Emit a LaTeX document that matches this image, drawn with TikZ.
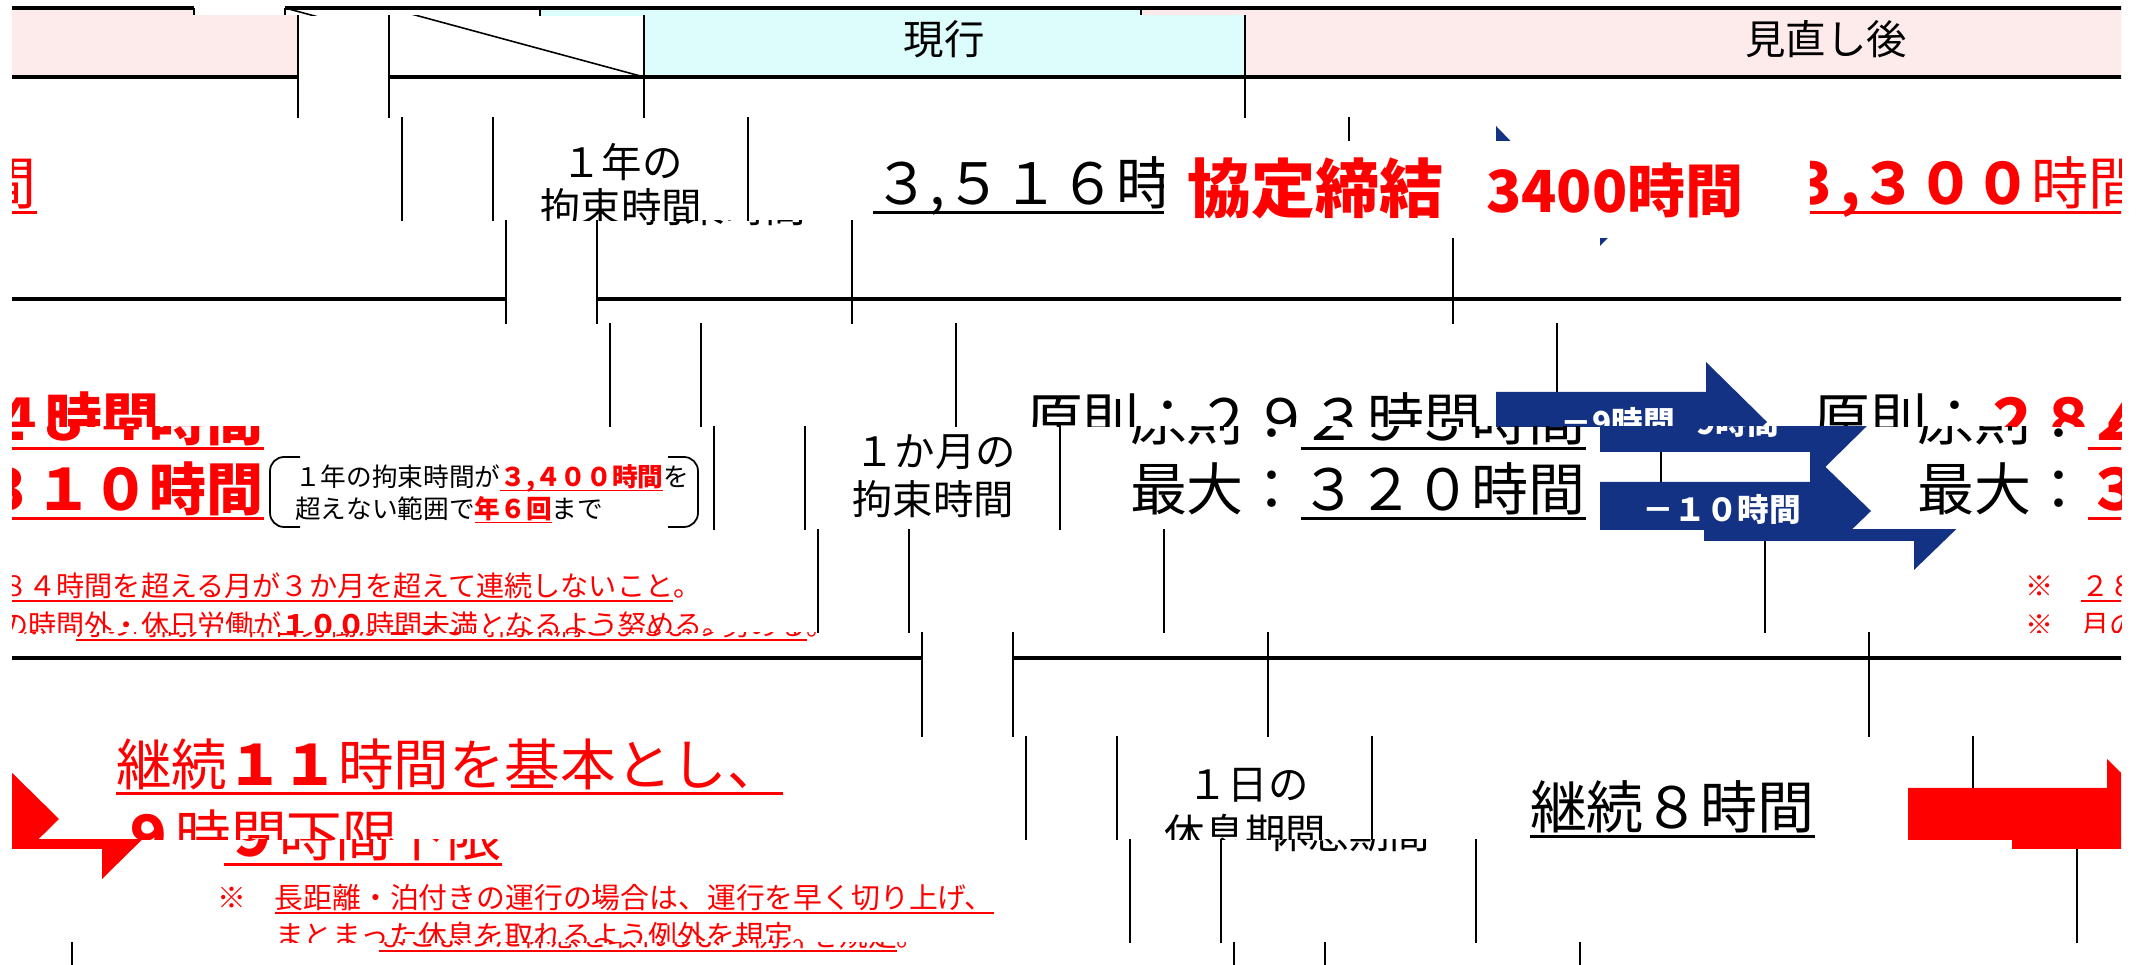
\documentclass[tikz,border=0pt]{standalone}
\usepackage{fontspec}
\newfontfamily\jp{Noto Sans CJK JP}
\definecolor{hdrcyan}{RGB}{221,253,253}
\definecolor{hdrpink}{RGB}{253,235,235}
\definecolor{navy}{RGB}{19,50,132}
\definecolor{pured}{RGB}{255,0,0}
\newsavebox\ulbox
\newcommand\myul[1]{\sbox\ulbox{#1}\rlap{\vrule height -0.11em depth 0.165em width \wd\ulbox}\usebox\ulbox}
\tikzset{
  txt/.style={inner sep=0pt, outer sep=0pt},
  hdrtext/.style={txt, font=\jp\fontsize{11.5pt}{14pt}\selectfont},
  bigtext/.style={txt, anchor=base west, font=\jp\fontsize{16.2pt}{19pt}\selectfont},
  kyotext/.style={txt, anchor=base west, text=pured, font=\jp\bfseries\fontsize{18.2pt}{21pt}\selectfont},
  kyotextb/.style={txt, anchor=base west, text=pured, font=\jp\bfseries\fontsize{16.5pt}{20pt}\selectfont},
  notetext/.style={txt, anchor=base west, font=\jp\fontsize{7.3pt}{9pt}\selectfont},
  smalltext/.style={txt, anchor=base west, text=pured, font=\jp\fontsize{8pt}{10pt}\selectfont},
  smalltextb/.style={txt, anchor=base west, text=pured, font=\jp\fontsize{8.2pt}{10pt}\selectfont},
  daytext/.style={txt, anchor=base west, text=pured, font=\jp\fontsize{15.8pt}{19pt}\selectfont},
  arrowtext/.style={txt, text=white, font=\jp\bfseries\fontsize{9pt}{11pt}\selectfont},
  vline/.style={line width=0.55pt, black},
  hline/.style={line width=0.9pt, black},
  bracketline/.style={line width=0.5pt, black, rounded corners=4},
}
\newcommand\tablebody[1]{%
  % header fills
  \fill[hdrcyan] (644,8) rectangle (1245,77);
  \fill[hdrpink] (1245,8) rectangle (2407,77);
  \draw[line width=0.45pt] (389,8) -- (644,77);
  % grid
  \foreach \xx in {389,644,1245,2407} {\draw[vline] (\xx,8) -- (\xx,1060);}
  \foreach \yy in {8,77,299,658} {\draw[hline] (389,\yy) -- (2407,\yy);}
  % arrows
  \fill[navy] (1184,156) -- (1392,156) -- (1392,126) -- (1450,186) -- (1392,246) -- (1392,216) -- (1184,216) -- cycle;
  \fill[navy] (1184,392) -- (1394,392) -- (1394,362) -- (1455,422) -- (1394,482) -- (1394,452) -- (1184,452) -- cycle;
  \fill[navy] (1184,482) -- (1394,482) -- (1394,452) -- (1455,511) -- (1394,570) -- (1394,541) -- (1184,541) -- cycle;
  \fill[pured] (1180,788) -- (1379,788) -- (1379,759) -- (1440,819) -- (1379,879) -- (1379,849) -- (1180,849) -- cycle;
  % year row texts under the white box
  \node[bigtext] (cY#1) at (769,205) {\myul{３,５１６時間}};
  \node[bigtext, text=pured] (nY#1) at (1680,205) {\myul{\textbf{３,３００}時間}};
  % white box over year arrow
  \fill[white] (1060,141) rectangle (1706,238);
  % headers and labels
  \node[hdrtext] (hNow#1) at (944,39) {現行};
  \node[hdrtext] (hNew#1) at (1826,39) {見直し後};
  \node[hdrtext] (lYa#1) at (518,162) {１年の};
  \node[hdrtext] (lYb#1) at (517,207) {拘束時間};
  \node[hdrtext] (lMa#1) at (519,452) {１か月の};
  \node[hdrtext] (lMb#1) at (517,499) {拘束時間};
  \node[hdrtext] (lDa#1) at (520,785) {１日の};
  \node[hdrtext] (lDb#1) at (517,833) {休息期間};
  % year row
  \node[kyotext] (kA#1) at (1083,213) {協定締結};
  \node[kyotextb] (kB#1) at (1382,213) {3400時間};
  % month row
  \node[bigtext] (cMa#1) at (714,441) {原則：\myul{２９３時間}};
  \node[bigtext] (cMb#1) at (714,511) {最大：\myul{３２０時間}};
  \node[bigtext] (nMa#1) at (1501,441) {原則：{\color{pured}\bfseries\myul{２８４時間}}};
  \node[bigtext] (nMb#1) at (1501,511) {最大：{\color{pured}\bfseries\myul{３１０時間}}};
  \draw[bracketline] (1993,457) -- (1963,457) -- (1963,527) -- (1993,527);
  \draw[bracketline] (2361,457) -- (2391,457) -- (2391,527) -- (2361,527);
  \node[notetext] (nBa#1) at (1988,487) {１年の拘束時間が{\color{pured}\bfseries\myul{３,４００時間}}を};
  \node[notetext] (nBb#1) at (1988,519) {超えない範囲で{\color{pured}\bfseries\myul{年６回}}まで};
  \node[smalltext] (nNa#1) at (1505,597) {※　\myul{２８４時間を超える月が３か月を超えて連続しないこと}。};
  \node[smalltext] (nNb#1) at (1505,636) {※　\myul{月の時間外・休日労働が\textbf{１００}時間未満となるよう努める}。};
  \node[arrowtext] (aTa#1) at (1306,422) {－9時間};
  \node[arrowtext] (aTb#1) at (1306,509) {－１０時間};
  % day row
  \node[bigtext] (cD#1) at (802,829) {\myul{継続８時間}};
  \node[daytext] (nDa#1) at (1497,786) {\myul{継続\textbf{１１}時間を基本とし、}};
  \node[daytext] (nDb#1) at (1501,857) {\myul{\textbf{９}時間下限}};
  \node[smalltextb] (nDc#1) at (1494,909) {※　\myul{長距離・泊付きの運行の場合は、運行を早く切り上げ、}};
  \node[smalltextb] (nDd#1) at (1552,947) {\myul{まとまった休息を取れるよう例外を規定}。};
}
\begin{document}
\begin{tikzpicture}[x=0.01cm, y=-0.01cm]
\useasboundingbox (0,0) rectangle (2146,965);
\fill[white] (0,0) rectangle (2146,965);
\foreach \k/\ya/\yb in {-1/-90/16, 0/16/118, 1/118/221, 2/221/324, 3/324/427, 4/427/530, 5/530/633, 6/633/737, 7/737/840, 8/840/943, 9/943/1046} {
  \begin{scope}
    \clip (12,\ya) rectangle (2121,\yb);
    \foreach \w in {-2109,0,2109} {
      \pgfmathsetmacro\shw{104*\k+\w}
      \begin{scope}[shift={(\shw,0)}]
        \tablebody{s\k w\w}
      \end{scope}
    }
  \end{scope}
}
\end{tikzpicture}
\end{document}
